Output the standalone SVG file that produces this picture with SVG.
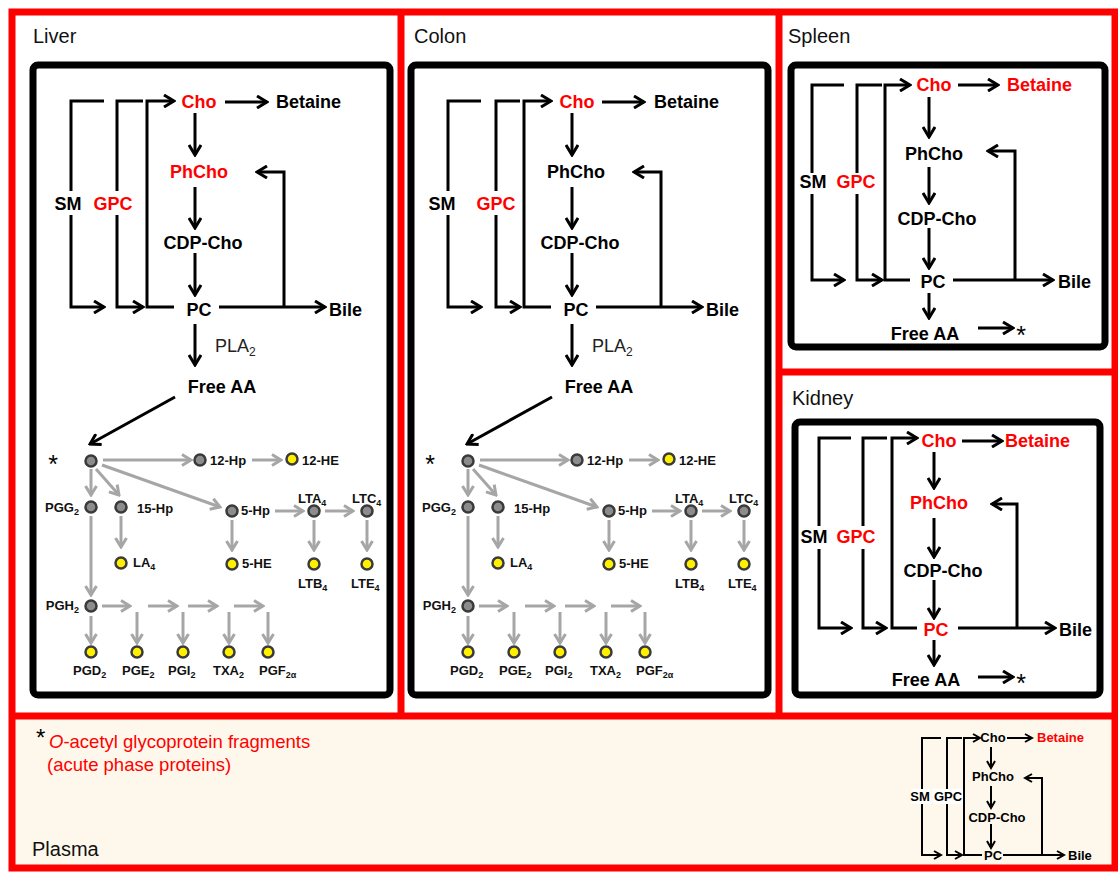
<svg xmlns="http://www.w3.org/2000/svg" width="1118" height="873" viewBox="0 0 1118 873">
<defs>
<style>
.t{font-family:"Liberation Sans",Arial,sans-serif;font-weight:bold;font-size:18px;fill:#000}
.m{text-anchor:middle}
.ttl{font-family:"Liberation Sans",Arial,sans-serif;font-size:20px;fill:#111}
.e{font-family:"Liberation Sans",Arial,sans-serif;font-weight:bold;font-size:13px;fill:#111}
.s{font-size:9px}
.b{fill:none;stroke:#000;stroke-width:3;stroke-linejoin:miter}
.ba{fill:none;stroke:#000;stroke-width:3;marker-end:url(#ah)}
.g{fill:none;stroke:#a6a6a6;stroke-width:3;marker-end:url(#gh)}
.mb{fill:none;stroke:#000;stroke-width:2}
.ma{fill:none;stroke:#000;stroke-width:2;marker-end:url(#mh)}
.gn{fill:#8c8c8c;stroke:#3a3a3a;stroke-width:2.5}
.yn{fill:#ffef00;stroke:#3a3a3a;stroke-width:2.5}
.box{fill:#fff;stroke:#000;stroke-width:7}
.mt{font-family:"Liberation Sans",Arial,sans-serif;font-weight:bold;font-size:13px;fill:#000}
.r{fill:#f00}
</style>
<marker id="ah" viewBox="0 0 14 14" refX="12" refY="7" markerWidth="14" markerHeight="14" markerUnits="userSpaceOnUse" orient="auto"><path d="M2,1 L12,7 L2,13" fill="none" stroke="#000" stroke-width="3"/></marker>
<marker id="gh" viewBox="0 0 12 14" refX="10" refY="7" markerWidth="12" markerHeight="14" markerUnits="userSpaceOnUse" orient="auto"><path d="M1,1.5 L10,7 L1,12.5" fill="none" stroke="#a6a6a6" stroke-width="3"/></marker>
<marker id="mh" viewBox="0 0 10 10" refX="8" refY="5" markerWidth="10" markerHeight="10" markerUnits="userSpaceOnUse" orient="auto"><path d="M1,1 L8,5 L1,9" fill="none" stroke="#000" stroke-width="2"/></marker>
<g id="eico">
<g id="eico-connectors">
<path class="g" d="M103,460 H191"/>
<path class="g" d="M252,460 H281"/>
<path class="g" d="M96,469 L119,495"/>
<path class="g" d="M102,465 L220,507"/>
<path class="g" d="M91,469 V495"/>
<path class="g" d="M121,516 V547"/>
<path class="g" d="M275,511 H303"/>
<path class="g" d="M325,511 H353"/>
<path class="g" d="M232,520 V550"/>
<path class="g" d="M314,520 V550"/>
<path class="g" d="M367,520 V550"/>
<path class="g" d="M91,516 V595"/>
<path class="g" d="M102,606 H130"/>
<path class="g" d="M148,606 H177"/>
<path class="g" d="M188,606 H217"/>
<path class="g" d="M234,606 H263"/>
<path class="g" d="M91,616 V643"/>
<path class="g" d="M137,612 V643"/>
<path class="g" d="M183,612 V643"/>
<path class="g" d="M229,612 V643"/>
<path class="g" d="M268,612 V643"/>
</g>
<text x="53" y="473" text-anchor="middle" style="font-family:'Liberation Sans',Arial,sans-serif;font-size:25px;fill:#000">*</text>
<g id="n-aa"><circle class="gn" cx="91" cy="461" r="5.5"/></g>
<g id="n-12hp"><circle class="gn" cx="200" cy="460" r="5.5"/><text class="e" x="210" y="465">12-Hp</text></g>
<g id="n-12he"><circle class="yn" cx="292" cy="459" r="5.5"/><text class="e" x="302" y="465">12-HE</text></g>
<g id="n-pgg2"><circle class="gn" cx="91" cy="507" r="5.5"/><text class="e" x="79" y="512" text-anchor="end">PGG<tspan class="s" dy="3">2</tspan></text></g>
<g id="n-15hp"><circle class="gn" cx="121" cy="507" r="5.5"/><text class="e" x="137" y="513">15-Hp</text></g>
<g id="n-la4"><circle class="yn" cx="121" cy="563" r="5.5"/><text class="e" x="133" y="567">LA<tspan class="s" dy="3">4</tspan></text></g>
<g id="n-5hp"><circle class="gn" cx="232" cy="511" r="5.5"/><text class="e" x="241" y="515">5-Hp</text></g>
<g id="n-5he"><circle class="yn" cx="232" cy="564" r="5.5"/><text class="e" x="242" y="568">5-HE</text></g>
<g id="n-lta4"><circle class="gn" cx="314" cy="511" r="5.5"/><text class="e" x="298" y="503">LTA<tspan class="s" dy="3">4</tspan></text></g>
<g id="n-ltc4"><circle class="gn" cx="367" cy="511" r="5.5"/><text class="e" x="352" y="503">LTC<tspan class="s" dy="3">4</tspan></text></g>
<g id="n-ltb4"><circle class="yn" cx="314" cy="564" r="5.5"/><text class="e" x="298" y="588">LTB<tspan class="s" dy="3">4</tspan></text></g>
<g id="n-lte4"><circle class="yn" cx="367" cy="564" r="5.5"/><text class="e" x="351" y="588">LTE<tspan class="s" dy="3">4</tspan></text></g>
<g id="n-pgh2"><circle class="gn" cx="91" cy="606" r="5.5"/><text class="e" x="79" y="610" text-anchor="end">PGH<tspan class="s" dy="3">2</tspan></text></g>
<g id="n-pgd2"><circle class="yn" cx="91" cy="652" r="5.5"/><text class="e" x="73" y="675">PGD<tspan class="s" dy="3">2</tspan></text></g>
<g id="n-pge2"><circle class="yn" cx="137" cy="652" r="5.5"/><text class="e" x="122" y="675">PGE<tspan class="s" dy="3">2</tspan></text></g>
<g id="n-pgi2"><circle class="yn" cx="183" cy="652" r="5.5"/><text class="e" x="168" y="675">PGI<tspan class="s" dy="3">2</tspan></text></g>
<g id="n-txa2"><circle class="yn" cx="229" cy="652" r="5.5"/><text class="e" x="213" y="675">TXA<tspan class="s" dy="3">2</tspan></text></g>
<g id="n-pgf2a"><circle class="yn" cx="268" cy="652" r="5.5"/><text class="e" x="259" y="675">PGF<tspan class="s" dy="3">2α</tspan></text></g>
</g>
</defs>

<!-- background and frames -->
<rect x="0" y="0" width="1118" height="873" fill="#fff"/>
<rect x="12" y="716" width="1103" height="152" fill="#fef8ec"/>
<g id="frame" fill="none" stroke="#f00" stroke-width="7">
<rect x="12" y="12" width="1103" height="856"/>
<path d="M401,12 V716 M779,12 V716 M12,716 H1115 M779,372 H1115"/>
</g>

<!-- titles -->
<text class="ttl" x="33" y="43">Liver</text>
<text class="ttl" x="414" y="43">Colon</text>
<text class="ttl" x="788" y="43">Spleen</text>
<text class="ttl" x="792" y="405">Kidney</text>
<text class="ttl" x="32" y="856">Plasma</text>

<!-- LIVER -->
<g id="liver">
<rect class="box" x="33" y="65" width="357" height="630" rx="5"/>
<g id="liver-connectors">
<path class="b" d="M104,101 H71 V191"/>
<path class="ba" d="M71,215 V307 H104"/>
<path class="b" d="M143,101 H117 V191"/>
<path class="ba" d="M117,215 V307 H143"/>
<path class="ba" d="M174,307 H147 V101 H174"/>
<path class="ba" d="M225,102 H267"/>
<path class="ba" d="M195,113 V155"/>
<path class="ba" d="M195,187 V228"/>
<path class="ba" d="M195,253 V295"/>
<path class="ba" d="M219,307 H325"/>
<path class="ba" d="M284,307 V172 H257"/>
<path class="ba" d="M195,324 V365"/>
<path class="ba" d="M175,397 L90,444"/>
</g>
<g id="liver-cho"><text class="t r m" x="199" y="108">Cho</text></g>
<g id="liver-betaine"><text class="t" x="276" y="108">Betaine</text></g>
<g id="liver-phcho"><text class="t r m" x="199" y="178">PhCho</text></g>
<g id="liver-cdpcho"><text class="t m" x="203" y="249">CDP-Cho</text></g>
<g id="liver-pc"><text class="t m" x="199" y="316">PC</text></g>
<g id="liver-bile"><text class="t" x="329" y="316">Bile</text></g>
<g id="liver-sm"><text class="t m" x="68" y="210">SM</text></g>
<g id="liver-gpc"><text class="t r m" x="113" y="210">GPC</text></g>
<g id="liver-pla2"><text x="215" y="352" style="font-family:'Liberation Sans',Arial,sans-serif;font-size:18px;fill:#222">PLA<tspan font-size="12" dy="4">2</tspan></text></g>
<g id="liver-freeaa"><text class="t m" x="222" y="393">Free AA</text></g>
<use href="#eico"/>
</g>

<!-- COLON -->
<g id="colon">
<rect class="box" x="411" y="65" width="357" height="630" rx="5"/>
<g transform="translate(377,0)">
<g id="colon-connectors">
<path class="b" d="M104,101 H71 V191"/>
<path class="ba" d="M71,215 V307 H104"/>
<path class="b" d="M143,101 H119 V191"/>
<path class="ba" d="M119,215 V307 H143"/>
<path class="ba" d="M174,307 H147 V101 H174"/>
<path class="ba" d="M225,102 H267"/>
<path class="ba" d="M195,113 V155"/>
<path class="ba" d="M195,187 V228"/>
<path class="ba" d="M195,253 V295"/>
<path class="ba" d="M219,307 H325"/>
<path class="ba" d="M284,307 V172 H257"/>
<path class="ba" d="M195,324 V365"/>
<path class="ba" d="M175,397 L90,444"/>
</g>
<g id="colon-cho"><text class="t r m" x="200" y="108">Cho</text></g>
<g id="colon-betaine"><text class="t" x="277" y="108">Betaine</text></g>
<g id="colon-phcho"><text class="t m" x="199" y="178">PhCho</text></g>
<g id="colon-cdpcho"><text class="t m" x="203" y="249">CDP-Cho</text></g>
<g id="colon-pc"><text class="t m" x="199" y="316">PC</text></g>
<g id="colon-bile"><text class="t" x="329" y="316">Bile</text></g>
<g id="colon-sm"><text class="t m" x="65" y="210">SM</text></g>
<g id="colon-gpc"><text class="t r m" x="119" y="210">GPC</text></g>
<g id="colon-pla2"><text x="215" y="352" style="font-family:'Liberation Sans',Arial,sans-serif;font-size:18px;fill:#222">PLA<tspan font-size="12" dy="4">2</tspan></text></g>
<g id="colon-freeaa"><text class="t m" x="222" y="393">Free AA</text></g>
<use href="#eico"/>
</g>
</g>

<!-- SPLEEN -->
<g id="spleen">
<rect class="box" x="791" y="65" width="314" height="282" rx="5"/>
<g id="spleen-connectors">
<path class="b" d="M844,85 H812 V173"/>
<path class="ba" d="M812,194 V280 H844"/>
<path class="b" d="M882,85 H857 V173"/>
<path class="ba" d="M857,194 V280 H882"/>
<path class="ba" d="M910,280 H885 V85 H910"/>
<path class="ba" d="M958,85 H998"/>
<path class="ba" d="M929,97 V137"/>
<path class="ba" d="M929,167 V203"/>
<path class="ba" d="M929,228 V268"/>
<path class="ba" d="M953,280 H1053"/>
<path class="ba" d="M1015,280 V151 H988"/>
<path class="ba" d="M929,293 V318"/>
<path class="ba" d="M978,328 H1013"/>
</g>
<g id="spleen-cho"><text class="t r m" x="934" y="91">Cho</text></g>
<g id="spleen-betaine"><text class="t r" x="1007" y="91">Betaine</text></g>
<g id="spleen-phcho"><text class="t m" x="934" y="160">PhCho</text></g>
<g id="spleen-cdpcho"><text class="t m" x="937" y="225">CDP-Cho</text></g>
<g id="spleen-pc"><text class="t m" x="933" y="288">PC</text></g>
<g id="spleen-bile"><text class="t" x="1058" y="288">Bile</text></g>
<g id="spleen-sm"><text class="t m" x="813" y="188">SM</text></g>
<g id="spleen-gpc"><text class="t r m" x="856" y="188">GPC</text></g>
<g id="spleen-freeaa"><text class="t m" x="925" y="340">Free AA</text></g>
<g id="spleen-star"><text x="1021" y="344" text-anchor="middle" style="font-family:'Liberation Sans',Arial,sans-serif;font-size:25px;fill:#000">*</text></g>
</g>

<!-- KIDNEY -->
<g id="kidney">
<rect class="box" x="795" y="422" width="305" height="273" rx="5"/>
<g id="kidney-connectors">
<path class="b" d="M851,438 H819 V526"/>
<path class="ba" d="M819,549 V628 H851"/>
<path class="b" d="M887,438 H863 V526"/>
<path class="ba" d="M863,549 V628 H886"/>
<path class="ba" d="M917,628 H892 V438 H917"/>
<path class="ba" d="M962,441 H1002"/>
<path class="ba" d="M934,452 V488"/>
<path class="ba" d="M934,518 V557"/>
<path class="ba" d="M934,580 V618"/>
<path class="ba" d="M958,628 H1055"/>
<path class="ba" d="M1017,628 V504 H992"/>
<path class="ba" d="M934,640 V665"/>
<path class="ba" d="M978,677 H1013"/>
</g>
<g id="kidney-cho"><text class="t r m" x="939" y="447">Cho</text></g>
<g id="kidney-betaine"><text class="t r" x="1005" y="447">Betaine</text></g>
<g id="kidney-phcho"><text class="t r m" x="939" y="509">PhCho</text></g>
<g id="kidney-cdpcho"><text class="t m" x="943" y="577">CDP-Cho</text></g>
<g id="kidney-pc"><text class="t r m" x="936" y="636">PC</text></g>
<g id="kidney-bile"><text class="t" x="1059" y="636">Bile</text></g>
<g id="kidney-sm"><text class="t m" x="814" y="543">SM</text></g>
<g id="kidney-gpc"><text class="t r m" x="856" y="543">GPC</text></g>
<g id="kidney-freeaa"><text class="t m" x="926" y="686">Free AA</text></g>
<g id="kidney-star"><text x="1021" y="692" text-anchor="middle" style="font-family:'Liberation Sans',Arial,sans-serif;font-size:25px;fill:#000">*</text></g>
</g>

<!-- PLASMA -->
<g id="plasma">
<g id="plasma-note">
<text x="36" y="746" style="font-family:'Liberation Sans',Arial,sans-serif;font-size:24px;fill:#000">*</text>
<text x="49" y="748" style="font-family:'Liberation Sans',Arial,sans-serif;font-size:18.5px;fill:#f00"><tspan font-style="italic">O</tspan>-acetyl glycoprotein fragments</text>
<text x="47" y="771" style="font-family:'Liberation Sans',Arial,sans-serif;font-size:18.5px;fill:#f00">(acute phase proteins)</text>
</g>
<g id="plasma-connectors">
<path class="mb" d="M941,738 H922 V792"/>
<path class="ma" d="M922,804 V855 H941"/>
<path class="mb" d="M962,738 H947 V792"/>
<path class="ma" d="M947,804 V855 H962"/>
<path class="ma" d="M982,855 H964 V738 H980"/>
<path class="ma" d="M1007,738 H1032"/>
<path class="ma" d="M991,747 V768"/>
<path class="ma" d="M991,786 V808"/>
<path class="ma" d="M991,824 V848"/>
<path class="ma" d="M1003,855 H1064"/>
<path class="ma" d="M1042,855 V778 H1025"/>
</g>
<g id="plasma-cho"><text class="mt m" x="993" y="742">Cho</text></g>
<g id="plasma-betaine"><text class="mt" x="1037" y="742" style="fill:#f00">Betaine</text></g>
<g id="plasma-phcho"><text class="mt m" x="993" y="781">PhCho</text></g>
<g id="plasma-cdpcho"><text class="mt m" x="997" y="822">CDP-Cho</text></g>
<g id="plasma-pc"><text class="mt m" x="993" y="860">PC</text></g>
<g id="plasma-bile"><text class="mt" x="1068" y="860">Bile</text></g>
<g id="plasma-sm"><rect x="911" y="789" width="19" height="15" fill="#fff"/><text class="mt m" x="920" y="801">SM</text></g>
<g id="plasma-gpc"><rect x="933" y="789" width="30" height="15" fill="#fff"/><text class="mt m" x="948" y="801">GPC</text></g>
</g>
</svg>
